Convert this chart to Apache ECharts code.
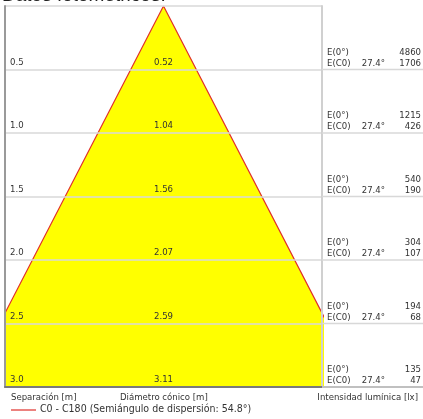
<!DOCTYPE html>
<html>
<head>
<meta charset="utf-8">
<script src="https://cdn.jsdelivr.net/npm/echarts@6/dist/echarts.min.js"></script>
<style>
html,body{margin:0;padding:0;background:#fff;}
#c{width:423px;height:419px;}
</style>
</head>
<body>
<div id="c"></div>
<script>
// ---- data ----
const separations = [0.5, 1.0, 1.5, 2.0, 2.5, 3.0];
const sepLabels = ['0.5', '1.0', '1.5', '2.0', '2.5', '3.0'];
const diameters = [0.52, 1.04, 1.56, 2.07, 2.59, 3.11];
const e0 = [4860, 1215, 540, 304, 194, 135];
const eC0 = [1706, 426, 190, 107, 68, 47];
const halfAngle = '27.4°';
const seriesName = 'C0 - C180 (Semiángulo de dispersión: 54.8°)';
const titleText = 'Datos fotométricos:';
const xLabel1 = 'Separación [m]';
const xLabel2 = 'Diámetro cónico [m]';
const xLabel3 = 'Intensidad lumínica [lx]';

const FONT = '"DejaVu Sans Condensed", "DejaVu Sans", sans-serif';
const FS = 9.5;
const TXT = '#333';
const RED = '#e0302a';

const lastSep = separations[separations.length - 1];
const lastHalf = diameters[diameters.length - 1] / 2;
const cone = [[-lastHalf, lastSep], [0, 0], [lastHalf, lastSep]];

const rows = separations.map((s, i) => [s, diameters[i], e0[i], eC0[i], i]);

const chart = echarts.init(document.getElementById('c'), null, {renderer: 'canvas'});

const option = {
  animation: false,
  backgroundColor: '#fff',
  grid: [
    {left: 5, top: 6, width: 317, height: 381},
    {left: 322, top: 6, right: 0, height: 381}
  ],
  xAxis: [
    {gridIndex: 0, type: 'value', min: -1.253, max: 1.253, position: 'bottom', z: 5,
     axisLine: {show: true, onZero: false, lineStyle: {color: '#7a7a7a', width: 2}},
     axisTick: {show: false}, axisLabel: {show: false}, splitLine: {show: false}},
    {gridIndex: 1, type: 'value', min: 0, max: 1, position: 'bottom', z: 5,
     axisLine: {show: true, onZero: false, lineStyle: {color: '#7a7a7a', width: 2}},
     axisTick: {show: false}, axisLabel: {show: false}, splitLine: {show: false}}
  ],
  yAxis: [
    {gridIndex: 0, type: 'value', inverse: true, min: 0, max: 3, interval: 0.5, z: 5,
     axisLine: {show: true, onZero: false, lineStyle: {color: '#9a9a9a', width: 2}},
     axisTick: {show: false}, axisLabel: {show: false},
     splitLine: {show: true, lineStyle: {color: '#d8d8d8', width: 1.5}}},
    {gridIndex: 1, type: 'value', inverse: true, min: 0, max: 3, interval: 0.5, z: 5,
     axisLine: {show: true, onZero: false, lineStyle: {color: '#d0d0d0', width: 2}},
     axisTick: {show: false}, axisLabel: {show: false},
     splitLine: {show: false}}
  ],
  series: [
    {
      name: seriesName, type: 'line', xAxisIndex: 0, yAxisIndex: 0,
      data: cone, symbol: 'none', clip: true,
      lineStyle: {color: RED, width: 1.2},
      itemStyle: {color: RED},
      areaStyle: {color: '#ffff00', opacity: 1, origin: 'end'},
      z: 2
    },
    {
      type: 'custom', xAxisIndex: 0, yAxisIndex: 0, data: rows, z: 6, clip: false,
      renderItem: function (params, api) {
        const s = api.value(0);
        const p = api.coord([0, s]);
        const i = api.value(4);
        const cs = params.coordSys;
        return {type: 'group', children: [
          {type: 'text', style: {text: sepLabels[i], x: cs.x + 5, y: p[1] - 7,
            fill: TXT, font: FS + 'px ' + FONT, align: 'left', verticalAlign: 'middle'}},
          {type: 'text', style: {text: diameters[i].toFixed(2), x: p[0], y: p[1] - 7,
            fill: TXT, font: FS + 'px ' + FONT, align: 'center', verticalAlign: 'middle'}}
        ]};
      }
    },
    {
      type: 'custom', xAxisIndex: 1, yAxisIndex: 1, data: rows, z: 6, clip: false,
      renderItem: function (params, api) {
        const s = api.value(0);
        const p = api.coord([0, s]);
        const i = api.value(4);
        const cs = params.coordSys;
        const f = FS + 'px ' + FONT;
        return {type: 'group', children: [
          {type: 'line', shape: {x1: cs.x, y1: p[1], x2: cs.x + cs.width, y2: p[1]},
            style: {stroke: '#d8d8d8', lineWidth: 1.5}, silent: true},
          {type: 'text', style: {text: 'E(0°)', x: cs.x + 5, y: p[1] - 17, fill: TXT, font: f, verticalAlign: 'middle'}},
          {type: 'text', style: {text: 'E(C0)', x: cs.x + 5, y: p[1] - 6, fill: TXT, font: f, verticalAlign: 'middle'}},
          {type: 'text', style: {text: halfAngle, x: cs.x + 63, y: p[1] - 6, fill: TXT, font: f, align: 'right', verticalAlign: 'middle'}},
          {type: 'text', style: {text: String(e0[i]), x: cs.x + cs.width - 2, y: p[1] - 17, fill: TXT, font: f, align: 'right', verticalAlign: 'middle'}},
          {type: 'text', style: {text: String(eC0[i]), x: cs.x + cs.width - 2, y: p[1] - 6, fill: TXT, font: f, align: 'right', verticalAlign: 'middle'}}
        ]};
      }
    }
  ],
  graphic: [
    {type: 'text', left: 2, top: -14, style: {text: titleText, font: '19px "Liberation Sans", Arial, sans-serif', fill: '#222'}},
    {type: 'text', left: 11, top: 393, style: {text: xLabel1, font: FS + 'px ' + FONT, fill: TXT}},
    {type: 'text', left: 120, top: 393, style: {text: xLabel2, font: FS + 'px ' + FONT, fill: TXT}},
    {type: 'text', right: 5, top: 393, style: {text: xLabel3, font: FS + 'px ' + FONT, fill: TXT}},
    {type: 'line', shape: {x1: 11, y1: 410, x2: 36, y2: 410}, style: {stroke: RED, lineWidth: 1.2}},
    {type: 'text', left: 40, top: 404, style: {text: seriesName, font: '10.5px ' + FONT, fill: TXT}}
  ]
};
chart.setOption(option);
</script>
</body>
</html>
